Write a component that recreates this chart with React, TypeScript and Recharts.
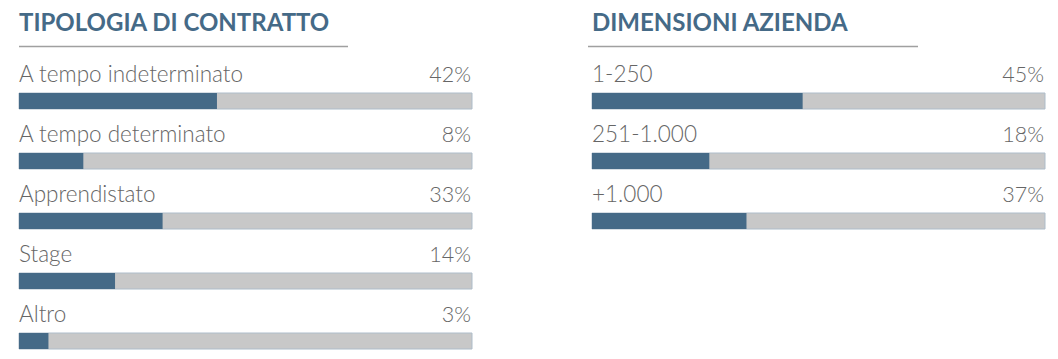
import React from 'react';
import { BarChart, Bar, XAxis, YAxis, LabelList } from 'recharts';

const contractTitle = 'TIPOLOGIA DI CONTRATTO';
const contractCategories = ['A tempo indeterminato', 'A tempo determinato', 'Apprendistato', 'Stage', 'Altro'];
const contractPercents = [42, 8, 33, 14, 3];
const contractBarLengths = [43.7, 14.2, 31.7, 21.2, 6.5];

const sizeTitle = 'DIMENSIONI AZIENDA';
const sizeCategories = ['1-250', '251-1.000', '+1.000'];
const sizePercents = [45, 18, 37];
const sizeBarLengths = [46.5, 25.9, 34.1];

const BLUE = '#456a87';
const GREY = '#c8c8c8';
const TEXT = '#666666';
const FONT = 'Lato, "Open Sans", sans-serif';

function NameLabel(props: any) {
  const { x, y, value } = props;
  return (
    <text x={x} y={y - 11} textAnchor="start" fill={TEXT} fontSize={22.5} fontWeight={300} fontFamily={FONT}>
      {value}
    </text>
  );
}

function PctLabel(props: any) {
  const { x, y, width, value } = props;
  return (
    <text x={x + width - 1} y={y - 11} textAnchor="end" fill={TEXT} fontSize={21.5} fontWeight={300} fontFamily={FONT}>
      {value}%
    </text>
  );
}

function Panel({ categories, percents, lengths, left }: { categories: string[]; percents: number[]; lengths: number[]; left: number }) {
  const data = categories.map((name, i) => ({ name, pct: percents[i], len: lengths[i], rest: 100 - lengths[i] }));
  return (
    <div style={{ position: 'absolute', left, top: 0 }}>
      <BarChart
        layout="vertical"
        width={480}
        height={71 + categories.length * 60}
        data={data}
        margin={{ top: 71, right: 8, left: 19, bottom: 0 }}
      >
        <XAxis type="number" domain={[0, 100]} hide />
        <YAxis type="category" dataKey="name" hide />
        <Bar
          dataKey="len"
          stackId="a"
          fill={BLUE}
          barSize={16}
          isAnimationActive={false}
          background={{ fill: GREY, stroke: '#aebdca', strokeWidth: 1 }}
        >
          <LabelList dataKey="name" content={<NameLabel />} />
        </Bar>
        <Bar dataKey="rest" stackId="a" fill="transparent" barSize={16} isAnimationActive={false}>
          <LabelList dataKey="pct" content={<PctLabel />} />
        </Bar>
      </BarChart>
    </div>
  );
}

export default function App() {
  return (
    <div style={{ position: 'absolute', left: 0, top: 0, width: 1058, height: 359, overflow: 'hidden', background: '#fff' }}>
      <svg width={1058} height={60} style={{ position: 'absolute', left: 0, top: 0 }}>
        <text x={19} y={31} fill={BLUE} fontSize={24} fontWeight={700} fontFamily={FONT}>{contractTitle}</text>
        <line x1={19} x2={348} y1={46.5} y2={46.5} stroke="#a0a0a0" strokeWidth={1.5} />
        <text x={592} y={31} fill={BLUE} fontSize={24} fontWeight={700} fontFamily={FONT}>{sizeTitle}</text>
        <line x1={588} x2={918} y1={46.5} y2={46.5} stroke="#a0a0a0" strokeWidth={1.5} />
      </svg>
      <Panel categories={contractCategories} percents={contractPercents} lengths={contractBarLengths} left={0} />
      <Panel categories={sizeCategories} percents={sizePercents} lengths={sizeBarLengths} left={572.7} />
    </div>
  );
}
